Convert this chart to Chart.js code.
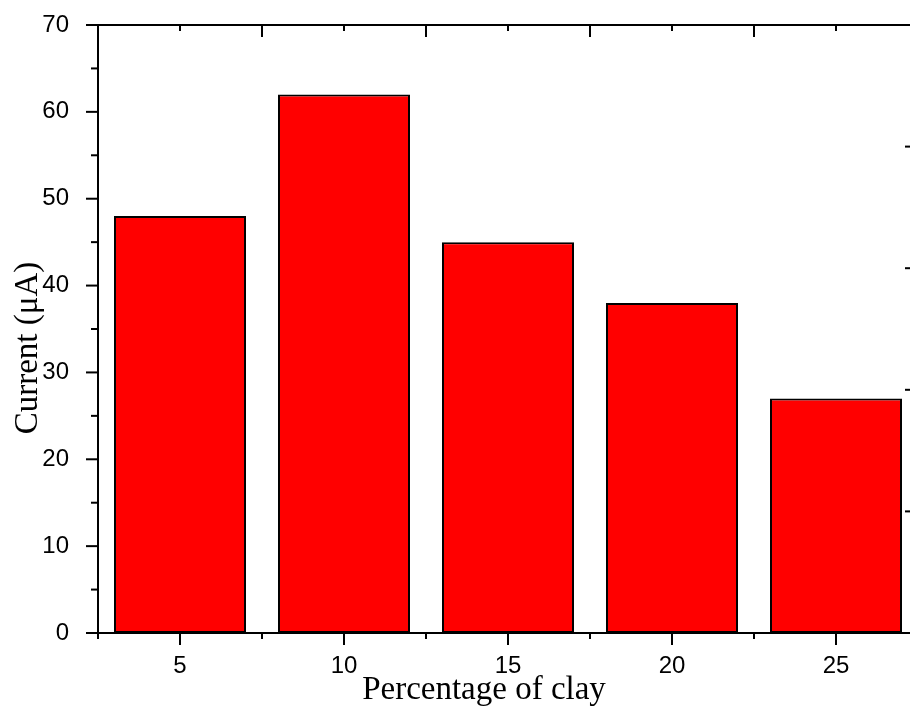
<!DOCTYPE html>
<html>
<head>
<meta charset="utf-8">
<script src="https://cdn.jsdelivr.net/npm/chart.js@4.4.1/dist/chart.umd.min.js"></script>
<style>
  html, body { margin: 0; padding: 0; overflow: hidden; background: #fff; }
  #wrap { position: relative; width: 930px; height: 709px; }
</style>
</head>
<body>
<div id="wrap"><canvas id="chart"></canvas></div>
<script>
// Clay content (%) and measured current (µA)
const clayPercent = [5, 10, 15, 20, 25];
const currentValues = [48, 62, 45, 38, 27];

// Axis tick values
const yMajorTicks = [0, 10, 20, 30, 40, 50, 60, 70];
const yMinorTicks = [5, 15, 25, 35, 45, 55, 65];
const xMajorTicks = [5, 10, 15, 20, 25];
const xMinorTicks = [2.5, 7.5, 12.5, 17.5, 22.5, 27.5];
const topMajorTicks = [2.5, 7.5, 12.5, 17.5, 22.5, 27.5];
const topMinorTicks = [5, 10, 15, 20, 25];
const rightTicks = [1, 2, 3, 4];

const xTitle = 'Percentage of clay';
const yTitle = 'Current (\u03bcA)';

const frame = {
  id: 'frame',
  afterDraw(chart) {
    const ctx = chart.ctx;
    const a = chart.chartArea;
    const x = chart.scales.x, y = chart.scales.y, y2 = chart.scales.y2;
    ctx.save();
    ctx.strokeStyle = '#000';
    ctx.lineWidth = 2;
    ctx.lineCap = 'butt';
    // box
    ctx.beginPath();
    ctx.moveTo(a.left, a.top); ctx.lineTo(a.right, a.top);
    ctx.moveTo(a.left, a.bottom); ctx.lineTo(a.right, a.bottom);
    ctx.moveTo(a.left, a.top - 1); ctx.lineTo(a.left, a.bottom + 1);
    ctx.moveTo(a.right, a.top - 1); ctx.lineTo(a.right, a.bottom + 1);
    ctx.stroke();

    const tick = (x1, y1, x2, y2p) => { ctx.beginPath(); ctx.moveTo(x1, y1); ctx.lineTo(x2, y2p); ctx.stroke(); };
    // left axis, outward
    yMajorTicks.forEach(v => { const p = y.getPixelForValue(v); tick(a.left, p, a.left - 12, p); });
    yMinorTicks.forEach(v => { const p = y.getPixelForValue(v); tick(a.left, p, a.left - 7, p); });
    // bottom axis, outward
    xMajorTicks.forEach(v => { const p = x.getPixelForValue(v); tick(p, a.bottom, p, a.bottom + 12); });
    xMinorTicks.forEach(v => { const p = x.getPixelForValue(v); tick(p, a.bottom, p, a.bottom + 6); });
    // top axis, inward
    topMajorTicks.forEach(v => { const p = x.getPixelForValue(v); tick(p, a.top, p, a.top + 12); });
    topMinorTicks.forEach(v => { const p = x.getPixelForValue(v); tick(p, a.top, p, a.top + 6); });
    // right axis, inward
    rightTicks.forEach(v => { const p = y2.getPixelForValue(v); tick(a.right, p, a.right - 13, p); });

    // axis titles
    ctx.fillStyle = '#000';
    ctx.font = '33px "Liberation Serif", "Times New Roman", serif';
    ctx.textAlign = 'center';
    ctx.textBaseline = 'middle';
    ctx.fillText(xTitle, a.left + 386, a.bottom + 57);
    ctx.translate(28, a.top + 323);
    ctx.rotate(-Math.PI / 2);
    ctx.fillText(yTitle, 0, 0);
    ctx.restore();
  }
};

const tickFont = { family: '"Liberation Sans", Arial, sans-serif', size: 24 };

new Chart(document.getElementById('chart'), {
  type: 'bar',
  data: {
    datasets: [{
      data: clayPercent.map((c, i) => ({ x: c, y: currentValues[i] })),
      backgroundColor: '#ff0000',
      borderColor: '#000000',
      borderWidth: 2,
      borderSkipped: false,
      barPercentage: 0.805,
      categoryPercentage: 1.0
    }]
  },
  options: {
    responsive: true,
    maintainAspectRatio: false,
    animation: false,
    devicePixelRatio: 1,
    layout: { padding: { top: 25, right: 12, left: 0, bottom: 0 } },
    plugins: { legend: { display: false }, tooltip: { enabled: false } },
    scales: {
      x: {
        type: 'linear',
        position: 'bottom',
        offset: false,
        min: 2.5,
        max: 27.5,
        grid: { display: false, offset: false },
        border: { display: false },
        afterBuildTicks: s => { s.ticks = xMajorTicks.map(v => ({ value: v })); },
        afterFit: s => { s.height = 76; s.paddingLeft = 0; s.paddingRight = 0; },
        ticks: { color: '#000', font: tickFont, padding: 11, maxRotation: 0 }
      },
      y: {
        type: 'linear',
        position: 'left',
        min: 0,
        max: 70,
        grid: { display: false },
        border: { display: false },
        afterBuildTicks: s => { s.ticks = yMajorTicks.map(v => ({ value: v })); },
        afterFit: s => { s.width = 98; s.paddingTop = 0; s.paddingBottom = 0; },
        ticks: { color: '#000', font: tickFont, padding: 21 }
      },
      y2: {
        type: 'linear',
        position: 'right',
        min: 0,
        max: 5,
        display: false
      }
    }
  },
  plugins: [frame]
});
</script>
</body>
</html>
